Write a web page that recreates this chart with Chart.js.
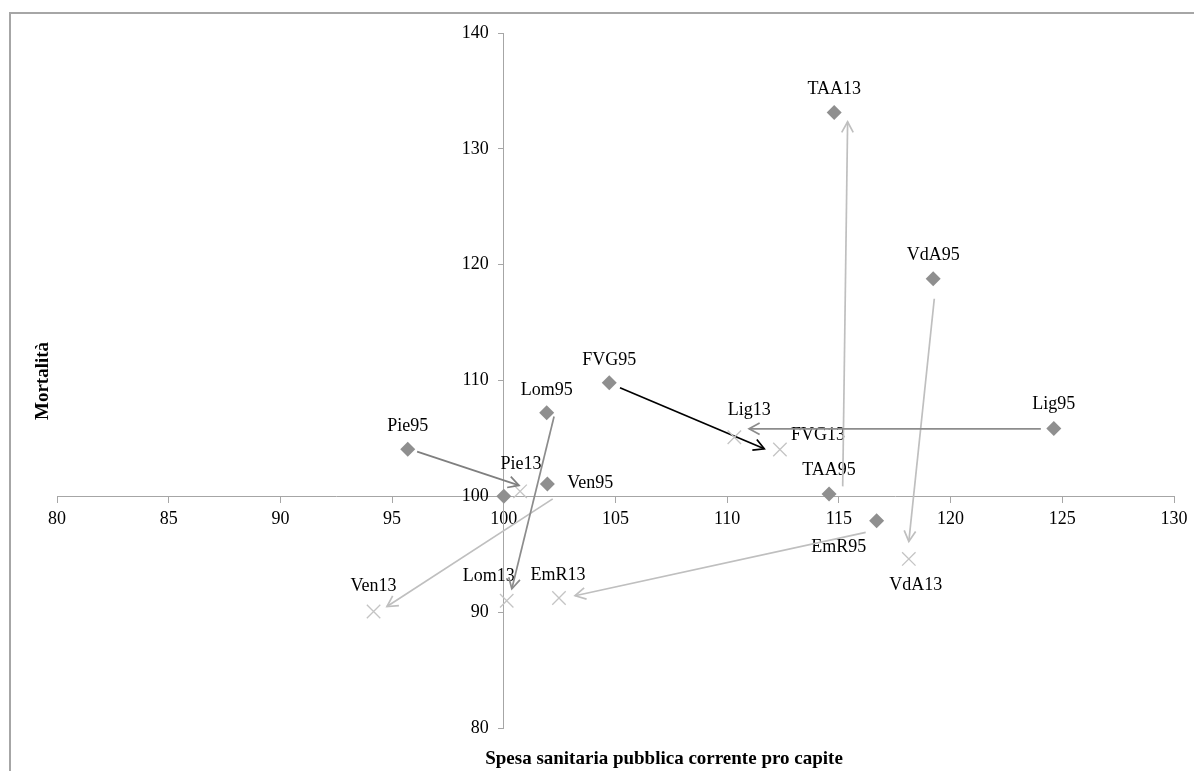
<!DOCTYPE html>
<html>
<head>
<meta charset="utf-8">
<script src="https://cdn.jsdelivr.net/npm/chart.js@4"></script>
<style>
  html, body { margin: 0; padding: 0; background: #fff; }
  #wrap { width: 1194px; height: 771px; position: relative; }
</style>
</head>
<body>
<div id="wrap"><canvas id="chart"></canvas></div>
<script>
// 1995 points (diamonds) - TAA13 is drawn as a diamond in the original too
var diamondNames = ['', 'Pie95', 'Lom95', 'Ven95', 'FVG95', 'Lig95', 'EmR95', 'TAA95', 'VdA95', 'TAA13'];
var diamondX = [100, 95.70, 101.92, 101.95, 104.72, 124.62, 116.69, 114.56, 119.22, 114.79];
var diamondY = [100, 104.06, 107.21, 101.07, 109.80, 105.85, 97.90, 100.20, 118.79, 133.14];

// 2013 points (crosses)
var crossNames = ['Pie13', 'Lom13', 'Ven13', 'FVG13', 'Lig13', 'EmR13', 'VdA13'];
var crossX = [100.73, 100.13, 94.17, 112.36, 110.32, 102.47, 118.13];
var crossY = [100.43, 90.99, 90.06, 104.04, 105.10, 91.22, 94.60];

// arrows 95 -> 13
var arrowFromX = [96.12, 102.25, 102.19, 116.20, 105.20, 124.04, 115.17, 119.27];
var arrowFromY = [103.86, 106.89, 99.78, 96.89, 109.37, 105.83, 100.86, 117.06];
var arrowToX = [100.68, 100.36, 94.77, 103.19, 111.66, 110.98, 115.39, 118.13];
var arrowToY = [100.95, 92.02, 90.49, 91.42, 104.10, 105.83, 132.33, 96.11];
var arrowColors = ['#7f7f7f', '#8c8c8c', '#bfbfbf', '#bfbfbf', '#000000', '#8c8c8c', '#bfbfbf', '#bfbfbf'];

// label offsets in px (dx, dy from the marker)
var diamondLabelDx = [0, 0, 0, 43, 0, 0, -38, 0, 0, 0];
var diamondLabelDy = [0, -23, -23, -1, -23, -24, 27, -24, -23, -23];
var crossLabelDx = [1, -18, 0, 38, 15, -1, 7];
var crossLabelDy = [-27, -24, -25, -14, -27, -23, 26];

var xTitle = 'Spesa sanitaria pubblica corrente pro capite';
var yTitle = 'Mortalità';

var serif = '"Liberation Serif", "Times New Roman", serif';
var axisGray = '#a6a6a6';

function toPoints(xs, ys) {
    return xs.map(function(x, i) { return {x: x, y: ys[i]}; });
}

var datasets = [
    {
        label: '1995',
        data: toPoints(diamondX, diamondY),
        pointStyle: 'rectRot',
        pointRadius: 7.5,
        pointHoverRadius: 7.5,
        backgroundColor: '#8f8f8f',
        borderWidth: 0,
        showLine: false
    },
    {
        label: '2013',
        data: toPoints(crossX, crossY),
        pointStyle: 'crossRot',
        pointRadius: 9.5,
        pointHoverRadius: 9.5,
        borderColor: '#c4c4c4',
        borderWidth: 1.3,
        showLine: false
    }
];

arrowFromX.forEach(function(fx, i) {
    datasets.push({
        label: 'arrow' + i,
        data: [{x: fx, y: arrowFromY[i]}, {x: arrowToX[i], y: arrowToY[i]}],
        showLine: true,
        borderColor: arrowColors[i],
        borderWidth: 1.7,
        pointRadius: 0,
        pointHoverRadius: 0,
        isArrow: true
    });
});

var decorations = {
    id: 'decorations',
    beforeDraw: function(chart) {
        var ctx = chart.ctx;
        ctx.save();
        ctx.strokeStyle = '#a6a6a6';
        ctx.lineWidth = 2;
        ctx.strokeRect(10, 13, 2000, 2000);
        ctx.restore();
    },
    beforeDatasetsDraw: function(chart) {
        var ctx = chart.ctx;
        ctx.save();
        ctx.font = '18px ' + serif;
        ctx.fillStyle = '#000';
        ctx.textAlign = 'center';
        ctx.textBaseline = 'middle';
        chart.getDatasetMeta(0).data.forEach(function(pt, i) {
            if (diamondNames[i]) ctx.fillText(diamondNames[i], pt.x + diamondLabelDx[i], pt.y + diamondLabelDy[i]);
        });
        chart.getDatasetMeta(1).data.forEach(function(pt, i) {
            ctx.fillText(crossNames[i], pt.x + crossLabelDx[i], pt.y + crossLabelDy[i]);
        });
        ctx.restore();
    },
    afterDatasetsDraw: function(chart) {
        var ctx = chart.ctx;
        ctx.save();
        chart.data.datasets.forEach(function(ds, i) {
            if (!ds.isArrow) return;
            var pts = chart.getDatasetMeta(i).data;
            var a = pts[0], b = pts[1];
            var ang = Math.atan2(b.y - a.y, b.x - a.x);
            var len = 12, spread = 0.5;
            ctx.strokeStyle = ds.borderColor;
            ctx.lineWidth = ds.borderWidth;
            ctx.beginPath();
            ctx.moveTo(b.x - len * Math.cos(ang - spread), b.y - len * Math.sin(ang - spread));
            ctx.lineTo(b.x, b.y);
            ctx.lineTo(b.x - len * Math.cos(ang + spread), b.y - len * Math.sin(ang + spread));
            ctx.stroke();
        });
        ctx.restore();
    },
    afterDraw: function(chart) {
        var ctx = chart.ctx;
        var xs = chart.scales.x, ys = chart.scales.y;
        ctx.save();
        // y tick labels, left of the centred axis
        ctx.font = '18px ' + serif;
        ctx.fillStyle = '#000';
        ctx.textAlign = 'right';
        ctx.textBaseline = 'middle';
        var axisX = xs.getPixelForValue(100);
        ys.ticks.forEach(function(t) {
            ctx.fillText(String(t.value), axisX - 15, ys.getPixelForValue(t.value));
        });
        // axis titles
        ctx.font = 'bold 19px ' + serif;
        ctx.textAlign = 'center';
        ctx.fillText(xTitle, 664, 759);
        ctx.translate(43, 381);
        ctx.rotate(-Math.PI / 2);
        ctx.fillText(yTitle, 0, 0);
        ctx.restore();
    }
};

new Chart(document.getElementById('chart'), {
    type: 'scatter',
    data: { datasets: datasets },
    options: {
        responsive: true,
        maintainAspectRatio: false,
        animation: false,
        layout: { padding: { left: 57, top: 33, right: 20, bottom: 43 } },
        plugins: {
            legend: { display: false },
            tooltip: { enabled: false }
        },
        scales: {
            x: {
                type: 'linear',
                position: { y: 100 },
                min: 80,
                max: 130,
                ticks: { stepSize: 5, color: '#000', padding: 6, font: { family: serif, size: 18 } },
                grid: { drawOnChartArea: false, tickLength: 6, color: axisGray },
                border: { color: axisGray }
            },
            y: {
                type: 'linear',
                position: { x: 100 },
                min: 80,
                max: 140,
                ticks: { display: false, stepSize: 10 },
                grid: { drawOnChartArea: false, tickLength: 5, color: axisGray },
                border: { color: axisGray }
            }
        }
    },
    plugins: [decorations]
});
</script>
</body>
</html>
